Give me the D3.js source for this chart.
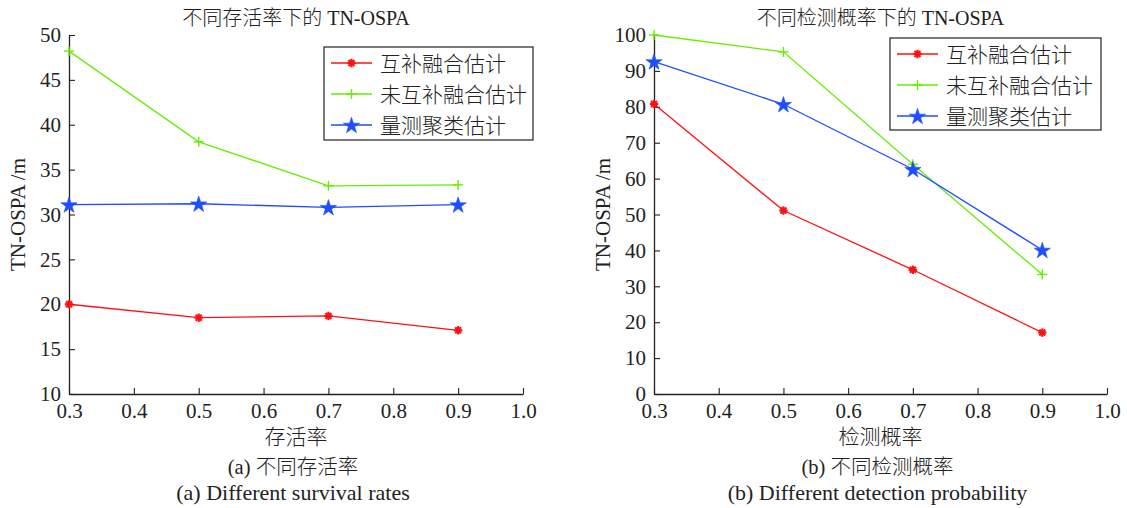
<!DOCTYPE html>
<html>
<head>
<meta charset="utf-8">
<script src="https://cdn.jsdelivr.net/npm/d3@7/dist/d3.min.js"></script>
<style>
  html, body { margin: 0; padding: 0; background: #fff; }
  svg { display: block; }
  .axis path, .axis line { stroke: #222; }
  .axis text { font-family: "Liberation Serif", "DejaVu Serif", serif; font-size: 21px; fill: #222; }
  .serif { font-family: "Liberation Serif", "Noto Sans CJK SC", serif; fill: #222; }
  .cjk { font-family: "Liberation Serif", "Noto Sans CJK SC", serif; fill: #222; font-weight: 300; }
</style>
</head>
<body>
<svg id="chart" width="1127" height="508"></svg>
<script>
// Series names (legend order)
const seriesNames = ["互补融合估计", "未互补融合估计", "量测聚类估计"];
const seriesColors = ["#ff1010", "#66ee00", "#1f4dff"];
const seriesMarkers = ["asterisk", "plus", "star"];

// Panel (a): survival rate
const survivalRates = [0.3, 0.5, 0.7, 0.9];
const survivalFused = [20.0, 18.5, 18.7, 17.1];
const survivalUnfused = [48.2, 38.1, 33.2, 33.3];
const survivalCluster = [31.1, 31.2, 30.8, 31.1];

// Panel (b): detection probability
const detectionProbs = [0.3, 0.5, 0.7, 0.9];
const detectionFused = [80.8, 51.1, 34.6, 17.1];
const detectionUnfused = [100.0, 95.3, 64.0, 33.3];
const detectionCluster = [92.6, 80.7, 62.6, 40.1];

// Tick labels
const xTicks = [0.3, 0.4, 0.5, 0.6, 0.7, 0.8, 0.9, 1.0];
const yTicksA = [10, 15, 20, 25, 30, 35, 40, 45, 50];
const yTicksB = [0, 10, 20, 30, 40, 50, 60, 70, 80, 90, 100];

const svg = d3.select("#chart");

function drawMarker(g, type, x, y, color) {
  if (type === "asterisk") {
    const r = 4.2;
    [0, 45, 90, 135].forEach(a => {
      const t = a * Math.PI / 180;
      g.append("line")
        .attr("x1", x - r * Math.cos(t)).attr("y1", y - r * Math.sin(t))
        .attr("x2", x + r * Math.cos(t)).attr("y2", y + r * Math.sin(t))
        .attr("stroke", color).attr("stroke-width", 2.2);
    });
  } else if (type === "plus") {
    const r = 5;
    g.append("line").attr("x1", x - r).attr("x2", x + r).attr("y1", y).attr("y2", y)
      .attr("stroke", color).attr("stroke-width", 1.4);
    g.append("line").attr("x1", x).attr("x2", x).attr("y1", y - r).attr("y2", y + r)
      .attr("stroke", color).attr("stroke-width", 1.4);
  } else {
    g.append("path")
      .attr("d", d3.symbol().type(d3.symbolStar).size(82)())
      .attr("transform", `translate(${x},${y + 0.8})`)
      .attr("fill", color).attr("stroke", color).attr("stroke-width", 0.6);
  }
}

function panel(opts) {
  const x = d3.scaleLinear().domain([0.3, 1.0]).range([opts.left, opts.right]);
  const y = d3.scaleLinear().domain(opts.yDomain).range([opts.bottom, opts.top]);
  const g = svg.append("g");

  // axes: ticks point inward
  g.append("g").attr("class", "axis")
    .attr("transform", `translate(0,${opts.bottom})`)
    .call(d3.axisBottom(x).tickValues(xTicks).tickFormat(d3.format(".1f"))
      .tickSizeInner(-6).tickSizeOuter(0).tickPadding(8))
    .call(a => a.select(".domain").attr("stroke-width", 1.3))
    .call(a => a.selectAll(".tick line").attr("stroke-width", 1.1))
    .call(a => a.selectAll("text").attr("dy", "0.78em"));

  g.append("g").attr("class", "axis")
    .attr("transform", `translate(${opts.left},0)`)
    .call(d3.axisLeft(y).tickValues(opts.yTicks).tickFormat(d3.format("d"))
      .tickSizeInner(-6).tickSizeOuter(0).tickPadding(8))
    .call(a => a.select(".domain").attr("stroke-width", 1.3))
    .call(a => a.selectAll(".tick line").attr("stroke-width", 1.1));

  // series lines and markers
  opts.series.forEach((vals, i) => {
    const line = d3.line().x((d, j) => x(opts.xs[j])).y(d => y(d));
    g.append("path").datum(vals)
      .attr("d", line).attr("fill", "none")
      .attr("stroke", seriesColors[i]).attr("stroke-width", 1.3);
    vals.forEach((v, j) => drawMarker(g, seriesMarkers[i], x(opts.xs[j]), y(v), seriesColors[i]));
  });

  // title
  g.append("text").attr("class", "cjk")
    .attr("x", (opts.left + opts.right) / 2).attr("y", 25)
    .attr("text-anchor", "middle").attr("font-size", 20)
    .text(opts.title);

  // axis labels
  g.append("text").attr("class", "cjk")
    .attr("x", (opts.left + opts.right) / 2).attr("y", 444)
    .attr("text-anchor", "middle").attr("font-size", 21)
    .text(opts.xLabel);
  g.append("text").attr("class", "serif")
    .attr("transform", `translate(${opts.left - 44},${(opts.top + opts.bottom) / 2}) rotate(-90)`)
    .attr("text-anchor", "middle").attr("font-size", 21)
    .text("TN-OSPA  /m");

  // captions
  g.append("text").attr("class", "cjk")
    .attr("x", (opts.left + opts.right) / 2 - 3).attr("y", 474)
    .attr("text-anchor", "middle").attr("font-size", 20.5)
    .text(opts.caption1);
  g.append("text").attr("class", "serif")
    .attr("x", (opts.left + opts.right) / 2 - 3).attr("y", 500)
    .attr("text-anchor", "middle").attr("font-size", 22)
    .text(opts.caption2);

  // legend
  const L = opts.legend;
  g.append("rect").attr("x", L.x).attr("y", L.y).attr("width", L.w).attr("height", L.h)
    .attr("fill", "#fff").attr("stroke", "#222").attr("stroke-width", 1.2);
  seriesNames.forEach((name, i) => {
    const cy = L.y + 16 + i * 31;
    g.append("line").attr("x1", L.x + 7).attr("x2", L.x + 48).attr("y1", cy).attr("y2", cy)
      .attr("stroke", seriesColors[i]).attr("stroke-width", 1.3);
    drawMarker(g, seriesMarkers[i], L.x + 27.5, cy, seriesColors[i]);
    g.append("text").attr("class", "cjk")
      .attr("x", L.x + 56).attr("y", cy).attr("dy", "0.36em")
      .attr("font-size", 21).text(name);
  });
}

panel({
  left: 69, right: 523, top: 35, bottom: 394,
  yDomain: [10, 50], yTicks: yTicksA,
  xs: survivalRates,
  series: [survivalFused, survivalUnfused, survivalCluster],
  title: "不同存活率下的 TN-OSPA",
  xLabel: "存活率",
  caption1: "(a) 不同存活率",
  caption2: "(a) Different survival rates",
  legend: { x: 324, y: 47, w: 209, h: 93 }
});

panel({
  left: 654, right: 1107, top: 35, bottom: 394,
  yDomain: [0, 100], yTicks: yTicksB,
  xs: detectionProbs,
  series: [detectionFused, detectionUnfused, detectionCluster],
  title: "不同检测概率下的 TN-OSPA",
  xLabel: "检测概率",
  caption1: "(b) 不同检测概率",
  caption2: "(b) Different detection probability",
  legend: { x: 890, y: 38, w: 211, h: 92 }
});
</script>
</body>
</html>
